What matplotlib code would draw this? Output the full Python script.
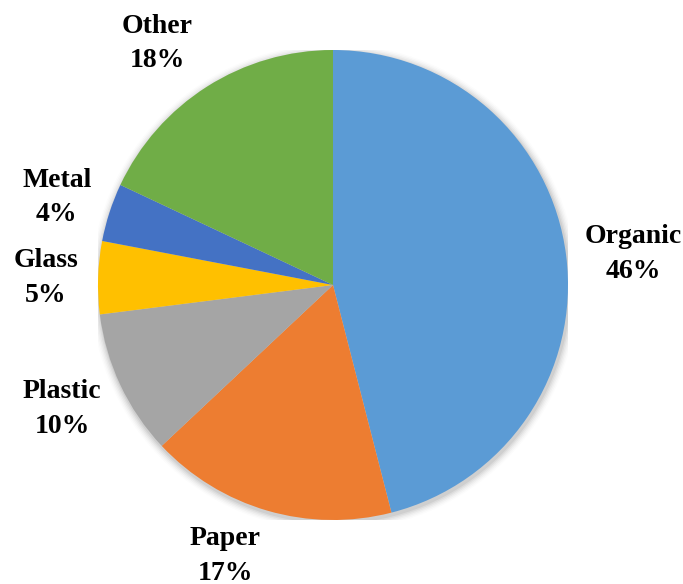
import matplotlib
matplotlib.use("Agg")
import matplotlib.pyplot as plt
import numpy as np

categories = ["Organic", "Paper", "Plastic", "Glass", "Metal", "Other"]
values = [46, 17, 10, 5, 4, 18]
colors = ["#5B9BD5", "#ED7D31", "#A5A5A5", "#FFC000", "#4472C4", "#70AD47"]
labels = [f"{c}\n{v}%" for c, v in zip(categories, values)]

# label layout: radial distance (in radii) and angular nudge (degrees)
label_dist = [1.283, 1.241, 1.268, 1.222, 1.232, 1.27]
label_nudge = [-1.3, -5.5, -0.6, 0.4, 0.5, 3.7]

fig = plt.figure(figsize=(6.83, 5.84), dpi=100)
r_px = 235
cx, cy = 333, 584 - 285
ax = fig.add_axes([(cx - r_px) / 683, (cy - r_px) / 584, 2 * r_px / 683, 2 * r_px / 584])

# soft shadow
for i, a in enumerate(np.linspace(0.05, 0.01, 6)):
    circ = plt.Circle((0.005, -0.01), 1.0 + 0.006 * (i + 1), color="black", alpha=a, lw=0, zorder=0)
    ax.add_patch(circ)

wedges, _ = ax.pie(values, colors=colors, startangle=90, counterclock=False,
                   wedgeprops=dict(linewidth=0, zorder=1))
for w, lab, d, n in zip(wedges, labels, label_dist, label_nudge):
    mid = np.deg2rad((w.theta1 + w.theta2) / 2 + n)
    ax.text(d * np.cos(mid), d * np.sin(mid), lab, ha="center", va="center",
            fontfamily="Liberation Serif", fontweight="bold", fontsize=20,
            color="black", linespacing=1.48)
ax.set_xlim(-1, 1)
ax.set_ylim(-1, 1)
ax.set_aspect("auto")
ax.axis("off")
fig.savefig("out.png", dpi=100)
